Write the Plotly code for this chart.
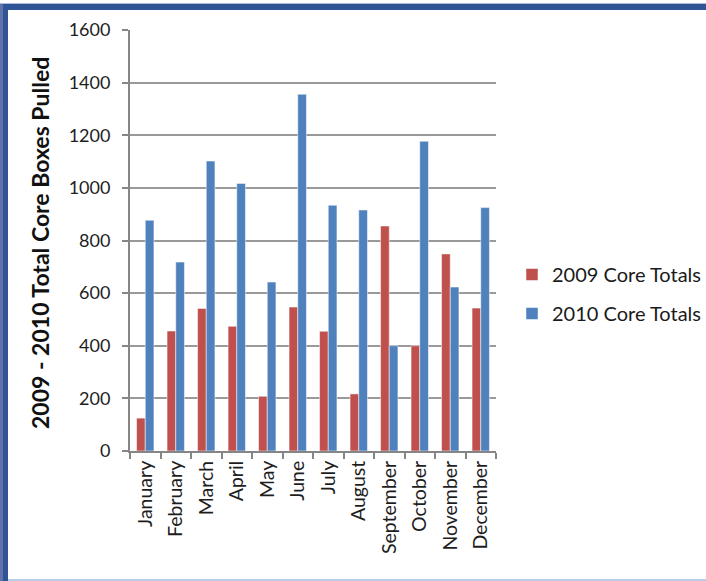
import plotly.graph_objects as go

months = ["January", "February", "March", "April", "May", "June", "July",
          "August", "September", "October", "November", "December"]
totals_2009 = [125, 456, 542, 474, 208, 547, 455, 217, 855, 400, 749, 543]
totals_2010 = [877, 718, 1102, 1017, 642, 1356, 934, 916, 400, 1177, 623, 925]
series_names = ["2009 Core Totals", "2010 Core Totals"]
y_ticks = [0, 200, 400, 600, 800, 1000, 1200, 1400, 1600]
y_title = "2009 - 2010 Total Core Boxes Pulled"

W, H = 706, 581
L, R, T, B = 130, 210, 30, 130
pw, ph = W - L - R, H - T - B

def px_x(px):
    return (px - L) / pw

def px_y(py):
    return (H - B - py) / ph

FONT = "Lato"
fig = go.Figure()
fig.add_trace(go.Bar(x=months, y=totals_2009, name=series_names[0],
                     marker=dict(color="#C0504D", line=dict(color="rgba(255,255,255,0.5)", width=1)),
                     legendgroup="a"))
fig.add_trace(go.Bar(x=months, y=totals_2010, name=series_names[1],
                     marker=dict(color="#4F81BD", line=dict(color="rgba(255,255,255,0.5)", width=1)),
                     legendgroup="b"))

shapes = [
    dict(type="rect", xref="paper", yref="paper", x0=px_x(0), x1=px_x(W), y0=px_y(4), y1=px_y(10),
         fillcolor="#2F5597", line=dict(width=0), layer="above"),
    dict(type="rect", xref="paper", yref="paper", x0=px_x(0), x1=px_x(W), y0=px_y(3), y1=px_y(4),
         fillcolor="#A9BCD9", line=dict(width=0), layer="above"),
    dict(type="rect", xref="paper", yref="paper", x0=px_x(0), x1=px_x(3), y0=px_y(H), y1=px_y(4),
         fillcolor="#5F73AA", line=dict(width=0), layer="above"),
    dict(type="rect", xref="paper", yref="paper", x0=px_x(3), x1=px_x(8), y0=px_y(H), y1=px_y(4),
         fillcolor="#2F5597", line=dict(width=0), layer="above"),
    dict(type="rect", xref="paper", yref="paper", x0=px_x(8), x1=px_x(W), y0=px_y(H), y1=px_y(579),
         fillcolor="#B8CCE4", line=dict(width=0), layer="above"),
]

fig.update_layout(
    width=W, height=H,
    margin=dict(l=L, r=R, t=T, b=B, autoexpand=False),
    paper_bgcolor="white", plot_bgcolor="white",
    barmode="group", bargap=0.43, bargroupgap=0,
    font=dict(family=FONT, color="#1e1e1e"),
    shapes=shapes,
    showlegend=True,
    legend=dict(x=px_x(512), y=px_y(294), xanchor="left", yanchor="middle",
                font=dict(size=20, color="#1a1a1a", family=FONT),
                traceorder="grouped", tracegroupgap=10, bgcolor="rgba(0,0,0,0)"),
    annotations=[dict(text="<b>" + y_title + "</b>", xref="paper", yref="paper",
                      x=px_x(40), y=px_y(243), xanchor="center", yanchor="middle",
                      textangle=-90, showarrow=False,
                      font=dict(size=23, family=FONT, color="#111111"))],
)
fig.update_xaxes(type="category", showline=True, linecolor="#868686", linewidth=2,
                 ticks="outside", tickson="boundaries", ticklen=6, tickcolor="#868686",
                 tickwidth=2, tickangle=-90, tickfont=dict(size=19.5, family=FONT),
                 showgrid=False)
fig.update_yaxes(range=[0, 1600], tickvals=y_ticks, showline=True, linecolor="#868686",
                 linewidth=2, ticks="outside", ticklen=6, tickcolor="#868686", tickwidth=2,
                 showgrid=True, gridcolor="#999999", gridwidth=1.5, zeroline=False,
                 tickfont=dict(size=18, family=FONT), ticklabelstandoff=8)

fig.write_html("out.html")
